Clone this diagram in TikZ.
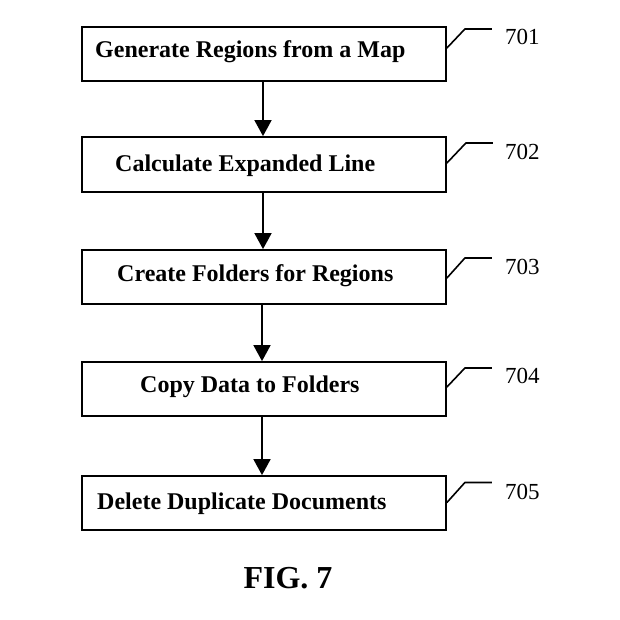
\documentclass[tikz,border=0pt]{standalone}
\usepackage{fontspec}
\setmainfont{Liberation Serif}
\usetikzlibrary{arrows.meta}
\begin{document}
\begin{tikzpicture}[x=1pt,y=1pt,
  stepbox/.style={draw=black, line width=1.8pt, minimum width=364pt, minimum height=54pt, inner sep=0pt},
  steptext/.style={anchor=base west, inner sep=0pt, font=\fontsize{24}{27}\selectfont\bfseries},
  reflabel/.style={anchor=west, inner sep=0pt, font=\fontsize{23}{26}\selectfont},
  flow/.style={line width=1.8pt, -{Triangle[width=17pt,length=16pt]}},
  leader/.style={line width=1.6pt}]
\useasboundingbox (0,0) rectangle (619,-620);
% boxes
\node[stepbox] (b1) at (264,-54) {};
\node[stepbox, minimum height=55pt] (b2) at (264,-164.5) {};
\node[stepbox] (b3) at (264,-277) {};
\node[stepbox] (b4) at (264,-389) {};
\node[stepbox] (b5) at (264,-503) {};
% texts
\node[steptext] (t1) at (95,-58) {Generate Regions from a Map};
\node[steptext] (t2) at (115,-172) {Calculate Expanded Line};
\node[steptext] (t3) at (117,-281) {Create Folders for Regions};
\node[steptext] (t4) at (140,-392) {Copy Data to Folders};
\node[steptext] (t5) at (97,-509) {Delete Duplicate Documents};
% arrows
\draw[flow] ([xshift=-1pt]b1.south) -- ([xshift=-1pt]b2.north);
\draw[flow] ([xshift=-1pt]b2.south) -- ([xshift=-1pt]b3.north);
\draw[flow] ([xshift=-2pt]b3.south) -- ([xshift=-2pt]b4.north);
\draw[flow] ([xshift=-2pt]b4.south) -- ([xshift=-2pt]b5.north);
% reference labels
\node[reflabel] (l1) at (505,-37) {701};
\node[reflabel] (l2) at (505,-152) {702};
\node[reflabel] (l3) at (505,-267) {703};
\node[reflabel] (l4) at (505,-376) {704};
\node[reflabel] (l5) at (505,-492) {705};
\draw[leader] ([yshift=6pt]b1.east) -- ++(18,19) -- ++(27,0);
\draw[leader] ([yshift=1.5pt]b2.east) -- ++(19,20) -- ++(27,0);
\draw[leader] ([yshift=-1pt]b3.east) -- ++(18,20) -- ++(27,0);
\draw[leader] ([yshift=2pt]b4.east) -- ++(18,19) -- ++(27,0);
\draw[leader] ([yshift=0.5pt]b5.east) -- ++(18,20) -- ++(27,0);
% caption
\node[inner sep=0pt, font=\fontsize{32}{36}\selectfont\bfseries] (cap) at (288,-578) {FIG. 7};
\end{tikzpicture}
\end{document}
